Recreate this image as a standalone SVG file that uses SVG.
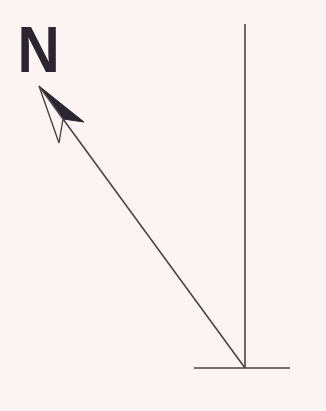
<svg xmlns="http://www.w3.org/2000/svg" width="326" height="411" viewBox="0 0 326 411">
<style>
.ln{stroke:#4a4547;stroke-width:1.6;fill:none}
</style>
<rect width="326" height="411" fill="#fbf4f2"/>
<g id="north-label"><text x="19.5" y="72" font-family="Liberation Sans, Arial, sans-serif" font-weight="bold" font-size="65" fill="#2a2530" transform="scale(0.9,1)">N</text></g>
<g id="connectors">
<line class="ln" x1="245" y1="24" x2="245" y2="368"/>
<line class="ln" x1="194" y1="368" x2="290" y2="368"/>
<line class="ln" x1="245" y1="368" x2="63" y2="119"/>
</g>
<g id="arrowhead">
<polygon points="39,86 84,122 63,119" fill="#2a2530" stroke="#2a2530" stroke-width="1"/>
<polygon points="39,86 63,119 59,143" fill="#fbf4f2" stroke="#4a4547" stroke-width="1.4"/>
</g>
</svg>
